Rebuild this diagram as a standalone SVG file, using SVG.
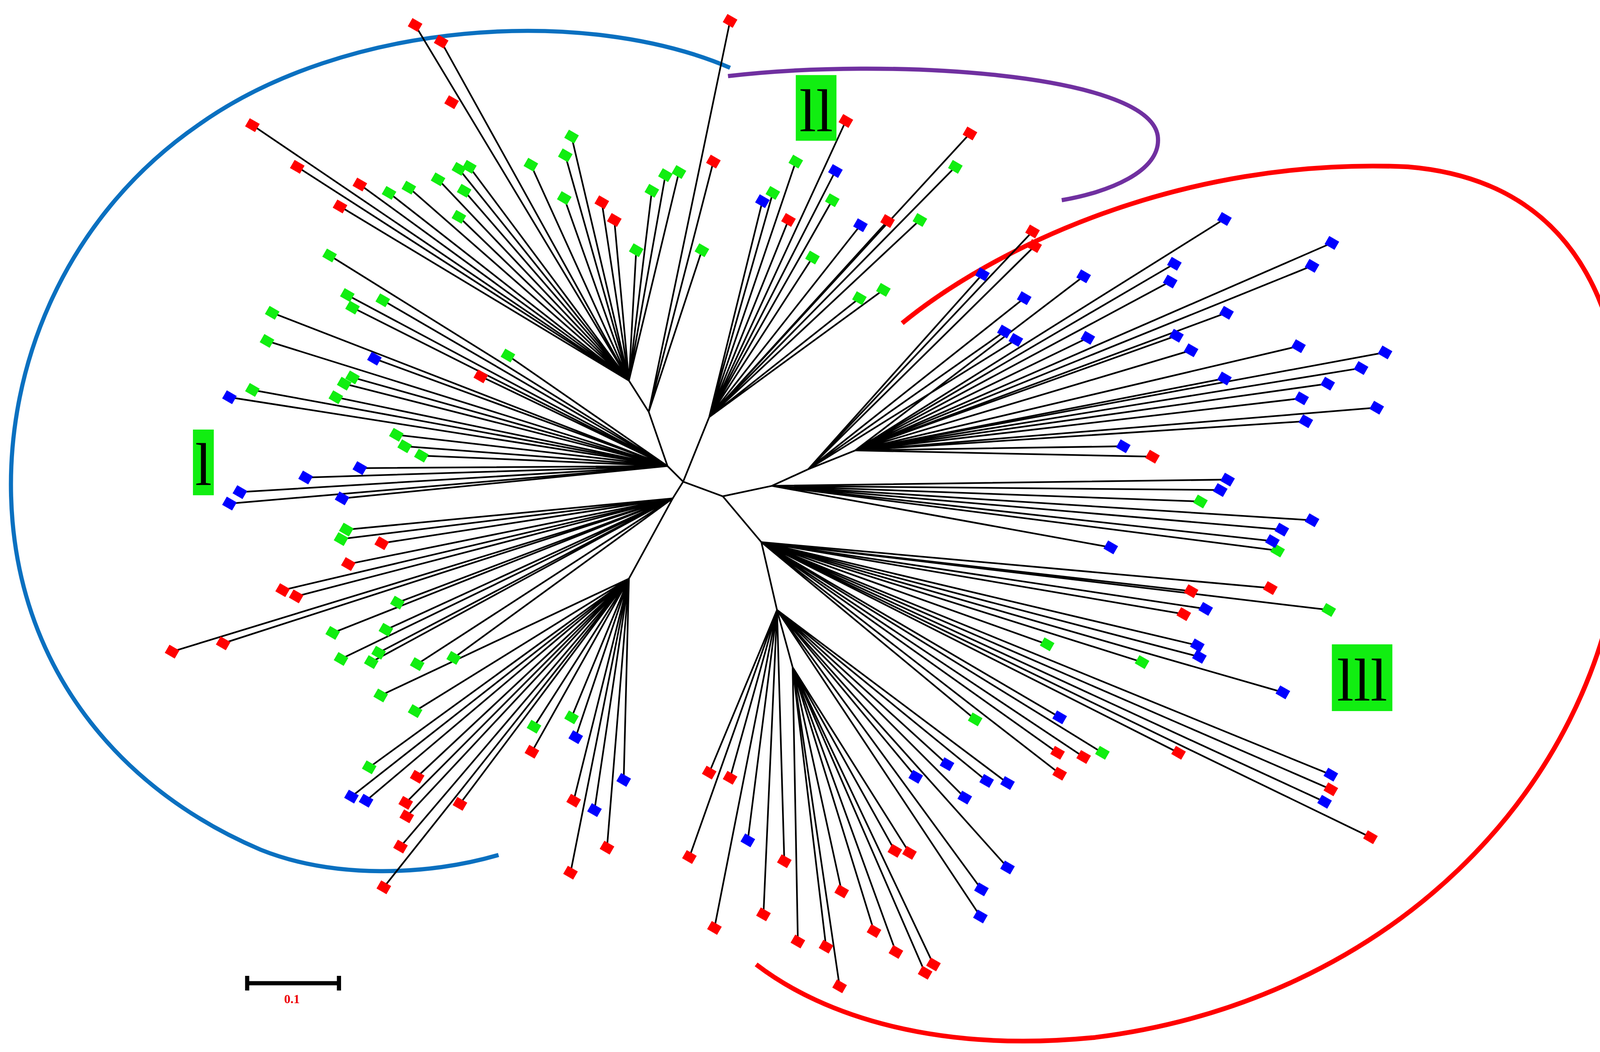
<svg xmlns="http://www.w3.org/2000/svg" xmlns:xlink="http://www.w3.org/1999/xlink" width="4187" height="2694" viewBox="0 0 4187 2694">
<style>
.br{fill:none;stroke:#000;stroke-width:1.6}
.r{fill:#ff0000}.g{fill:#11ee11}.b{fill:#0000ff}
.lab{font-family:"Liberation Serif",serif;fill:#000}
</style>
<defs><rect id="m" x="-5.5" y="-4.5" width="11" height="9" transform="rotate(30)"/></defs>
<rect width="4187" height="2694" fill="#fff"/>
<g transform="scale(2.67)">
<g id="arcs" fill="none" stroke-linecap="butt">
<path d="M700,65 C560,5 330,20 190,120 C60,210 0,360 12,500 C25,650 120,760 250,815 C320,843 410,840 478,820" stroke="#0a70c0" stroke-width="4"/>
<path d="M698,73 C850,55 1100,70 1110,130 C1115,165 1060,185 1018,192" stroke="#7030a0" stroke-width="4"/>
<path d="M865,310 C950,240 1130,150 1350,160 C1530,175 1575,330 1555,520 C1530,760 1330,960 1050,995 C900,1010 790,975 725,925" stroke="#ff0000" stroke-width="4.5"/>
</g>
<g id="connectors">
<path class="br" d="M655,462 L640,447 L622,395 L603,365 M655,462 L680,400 M655,462 L693,476 L740,466 L775,450 L820,432 M693,476 L730,520 L745,585 L760,640 M655,462 L645,478 L603,555"/>
<path class="br" d="M603,365 L398,24 M603,365 L423,40 M603,365 L242,120 M603,365 L285,160 M603,365 L345,177 M603,365 L326,198 M603,365 L373,185 M603,365 L392,180 M603,365 L420,172 M603,365 L440,162 M603,365 L450,160 M603,365 L445,183 M603,365 L440,208 M603,365 L509,158 M603,365 L548,131 M603,365 L542,149 M603,365 L541,190 M603,365 L577,194 M603,365 L589,211 M603,365 L625,183 M603,365 L638,168 M603,365 L651,165 M603,365 L610,240 M622,395 L673,240 M622,395 L684,155 M622,395 L700,20"/>
<path class="br" d="M680,400 L763,155 M680,400 L801,164 M680,400 L731,193 M680,400 L741,185 M680,400 L798,192 M680,400 L756,211 M680,400 L825,216 M680,400 L851,212 M680,400 L882,211 M680,400 L779,247 M680,400 L824,286 M680,400 L847,278 M680,400 L811,116 M680,400 L930,128 M680,400 L916,160"/>
<path class="br" d="M775,450 L990,222 M775,450 L992,236 M775,450 L942,263 M775,450 L982,286 M775,450 L963,318 M775,450 L974,326 M820,432 L1039,265 M820,432 L1043,324 M820,432 L1174,210 M820,432 L1126,253 M820,432 L1122,270 M820,432 L1176,300 M820,432 L1128,322 M820,432 L1142,336 M820,432 L1174,363 M820,432 L1277,233 M820,432 L1258,255 M820,432 L1245,332 M820,432 L1305,353 M820,432 L1328,338 M820,432 L1273,368 M820,432 L1248,382 M820,432 L1320,391 M820,432 L1252,404 M820,432 L1077,428 M820,432 L1105,438"/>
<path class="br" d="M740,466 L1177,460 M740,466 L1170,470 M740,466 L1151,481 M740,466 L1258,499 M740,466 L1229,508 M740,466 L1220,519 M740,466 L1225,528 M740,466 L1065,525 M730,520 L1218,564 M730,520 L1142,567 M730,520 L1135,589 M730,520 L1156,584 M730,520 L1274,585 M730,520 L1148,619 M730,520 L1150,630 M730,520 L1004,618 M730,520 L1095,635 M730,520 L1230,664 M730,520 L1016,688 M730,520 L935,690 M730,520 L1014,722 M730,520 L1039,726 M730,520 L1057,722 M730,520 L1016,742 M730,520 L1130,722 M730,520 L1276,743 M730,520 L1276,757 M730,520 L1270,769 M730,520 L1314,803"/>
<path class="br" d="M745,585 L908,733 M745,585 L946,749 M745,585 L966,751 M745,585 L878,745 M745,585 L925,765 M745,585 L966,832 M745,585 L941,853 M745,585 L940,879 M745,585 L680,741 M745,585 L700,746 M745,585 L661,822 M745,585 L685,890 M745,585 L717,806 M745,585 L752,826 M745,585 L732,877 M760,640 L765,903 M760,640 L792,908 M760,640 L807,855 M760,640 L805,946 M760,640 L838,893 M760,640 L858,816 M760,640 L872,818 M760,640 L859,913 M760,640 L887,933 M760,640 L895,925"/>
<path class="br" d="M603,555 L512,697 M603,555 L548,688 M603,555 L552,707 M603,555 L598,748 M603,555 L510,721 M603,555 L550,768 M603,555 L570,777 M603,555 L582,813 M603,555 L547,837 M603,555 L441,771 M603,555 L400,745 M603,555 L389,770 M603,555 L390,783 M603,555 L384,812 M603,555 L368,851 M603,555 L337,764 M603,555 L351,768 M603,555 L354,736 M603,555 L398,682 M603,555 L365,667"/>
<path class="br" d="M645,478 L381,578 M645,478 L370,604 M645,478 L319,607 M645,478 L363,626 M645,478 L356,635 M645,478 L327,632 M645,478 L400,637 M645,478 L435,631 M645,478 L271,566 M645,478 L284,572 M645,478 L214,617 M645,478 L165,625 M645,478 L334,541 M645,478 L366,521 M645,478 L332,508 M645,478 L327,517"/>
<path class="br" d="M640,447 L220,483 M640,447 L230,472 M640,447 L293,458 M640,447 L345,449 M640,447 L328,478 M640,447 L380,417 M640,447 L388,428 M640,447 L404,437 M640,447 L220,381 M640,447 L242,374 M640,447 L322,381 M640,447 L330,368 M640,447 L338,362 M640,447 L359,344 M640,447 L461,361 M640,447 L487,341 M640,447 L261,300 M640,447 L256,327 M640,447 L316,245 M640,447 L333,283 M640,447 L338,295 M640,447 L367,288"/>
</g>
<g id="leaves">
<g class="r"><use href="#m" x="398" y="24"/><use href="#m" x="423" y="40"/><use href="#m" x="700" y="20"/><use href="#m" x="242" y="120"/><use href="#m" x="285" y="160"/><use href="#m" x="345" y="177"/><use href="#m" x="326" y="198"/><use href="#m" x="433" y="98"/><use href="#m" x="577" y="194"/><use href="#m" x="589" y="211"/><use href="#m" x="684" y="155"/><use href="#m" x="811" y="116"/><use href="#m" x="930" y="128"/><use href="#m" x="756" y="211"/><use href="#m" x="851" y="212"/><use href="#m" x="990" y="222"/><use href="#m" x="992" y="236"/><use href="#m" x="1105" y="438"/><use href="#m" x="1218" y="564"/><use href="#m" x="1142" y="567"/><use href="#m" x="1135" y="589"/><use href="#m" x="1014" y="722"/><use href="#m" x="1039" y="726"/><use href="#m" x="1016" y="742"/><use href="#m" x="1130" y="722"/><use href="#m" x="1276" y="757"/><use href="#m" x="1314" y="803"/><use href="#m" x="680" y="741"/><use href="#m" x="700" y="746"/><use href="#m" x="661" y="822"/><use href="#m" x="685" y="890"/><use href="#m" x="752" y="826"/><use href="#m" x="732" y="877"/><use href="#m" x="765" y="903"/><use href="#m" x="792" y="908"/><use href="#m" x="807" y="855"/><use href="#m" x="805" y="946"/><use href="#m" x="838" y="893"/><use href="#m" x="858" y="816"/><use href="#m" x="872" y="818"/><use href="#m" x="859" y="913"/><use href="#m" x="887" y="933"/><use href="#m" x="895" y="925"/><use href="#m" x="510" y="721"/><use href="#m" x="550" y="768"/><use href="#m" x="582" y="813"/><use href="#m" x="547" y="837"/><use href="#m" x="441" y="771"/><use href="#m" x="400" y="745"/><use href="#m" x="389" y="770"/><use href="#m" x="390" y="783"/><use href="#m" x="384" y="812"/><use href="#m" x="368" y="851"/><use href="#m" x="271" y="566"/><use href="#m" x="284" y="572"/><use href="#m" x="214" y="617"/><use href="#m" x="165" y="625"/><use href="#m" x="334" y="541"/><use href="#m" x="366" y="521"/><use href="#m" x="461" y="361"/></g>
<g class="g"><use href="#m" x="373" y="185"/><use href="#m" x="392" y="180"/><use href="#m" x="420" y="172"/><use href="#m" x="440" y="162"/><use href="#m" x="450" y="160"/><use href="#m" x="445" y="183"/><use href="#m" x="440" y="208"/><use href="#m" x="509" y="158"/><use href="#m" x="548" y="131"/><use href="#m" x="542" y="149"/><use href="#m" x="541" y="190"/><use href="#m" x="625" y="183"/><use href="#m" x="638" y="168"/><use href="#m" x="651" y="165"/><use href="#m" x="610" y="240"/><use href="#m" x="673" y="240"/><use href="#m" x="763" y="155"/><use href="#m" x="741" y="185"/><use href="#m" x="798" y="192"/><use href="#m" x="882" y="211"/><use href="#m" x="779" y="247"/><use href="#m" x="824" y="286"/><use href="#m" x="847" y="278"/><use href="#m" x="916" y="160"/><use href="#m" x="1151" y="481"/><use href="#m" x="1225" y="528"/><use href="#m" x="1274" y="585"/><use href="#m" x="1004" y="618"/><use href="#m" x="1095" y="635"/><use href="#m" x="935" y="690"/><use href="#m" x="1057" y="722"/><use href="#m" x="512" y="697"/><use href="#m" x="548" y="688"/><use href="#m" x="354" y="736"/><use href="#m" x="398" y="682"/><use href="#m" x="365" y="667"/><use href="#m" x="381" y="578"/><use href="#m" x="370" y="604"/><use href="#m" x="319" y="607"/><use href="#m" x="363" y="626"/><use href="#m" x="356" y="635"/><use href="#m" x="327" y="632"/><use href="#m" x="400" y="637"/><use href="#m" x="435" y="631"/><use href="#m" x="332" y="508"/><use href="#m" x="327" y="517"/><use href="#m" x="380" y="417"/><use href="#m" x="388" y="428"/><use href="#m" x="404" y="437"/><use href="#m" x="242" y="374"/><use href="#m" x="322" y="381"/><use href="#m" x="330" y="368"/><use href="#m" x="338" y="362"/><use href="#m" x="487" y="341"/><use href="#m" x="261" y="300"/><use href="#m" x="256" y="327"/><use href="#m" x="316" y="245"/><use href="#m" x="333" y="283"/><use href="#m" x="338" y="295"/><use href="#m" x="367" y="288"/></g>
<g class="b"><use href="#m" x="801" y="164"/><use href="#m" x="731" y="193"/><use href="#m" x="825" y="216"/><use href="#m" x="942" y="263"/><use href="#m" x="982" y="286"/><use href="#m" x="1039" y="265"/><use href="#m" x="963" y="318"/><use href="#m" x="974" y="326"/><use href="#m" x="1043" y="324"/><use href="#m" x="1174" y="210"/><use href="#m" x="1126" y="253"/><use href="#m" x="1122" y="270"/><use href="#m" x="1176" y="300"/><use href="#m" x="1128" y="322"/><use href="#m" x="1142" y="336"/><use href="#m" x="1174" y="363"/><use href="#m" x="1277" y="233"/><use href="#m" x="1258" y="255"/><use href="#m" x="1245" y="332"/><use href="#m" x="1305" y="353"/><use href="#m" x="1328" y="338"/><use href="#m" x="1273" y="368"/><use href="#m" x="1248" y="382"/><use href="#m" x="1320" y="391"/><use href="#m" x="1252" y="404"/><use href="#m" x="1077" y="428"/><use href="#m" x="1177" y="460"/><use href="#m" x="1170" y="470"/><use href="#m" x="1258" y="499"/><use href="#m" x="1229" y="508"/><use href="#m" x="1220" y="519"/><use href="#m" x="1065" y="525"/><use href="#m" x="1156" y="584"/><use href="#m" x="1148" y="619"/><use href="#m" x="1150" y="630"/><use href="#m" x="1230" y="664"/><use href="#m" x="1016" y="688"/><use href="#m" x="1276" y="743"/><use href="#m" x="1270" y="769"/><use href="#m" x="908" y="733"/><use href="#m" x="946" y="749"/><use href="#m" x="966" y="751"/><use href="#m" x="878" y="745"/><use href="#m" x="925" y="765"/><use href="#m" x="966" y="832"/><use href="#m" x="941" y="853"/><use href="#m" x="940" y="879"/><use href="#m" x="717" y="806"/><use href="#m" x="552" y="707"/><use href="#m" x="598" y="748"/><use href="#m" x="570" y="777"/><use href="#m" x="337" y="764"/><use href="#m" x="351" y="768"/><use href="#m" x="220" y="483"/><use href="#m" x="230" y="472"/><use href="#m" x="293" y="458"/><use href="#m" x="345" y="449"/><use href="#m" x="328" y="478"/><use href="#m" x="220" y="381"/><use href="#m" x="359" y="344"/></g>
</g>
<g id="label-I"><rect x="185" y="412" width="20" height="63" fill="#11ee11"/><text class="lab" x="195" y="465" font-size="58" text-anchor="middle">l</text></g>
<g id="label-II"><rect x="763" y="72" width="39" height="63" fill="#11ee11"/><text class="lab" x="782.5" y="126" font-size="58" text-anchor="middle">ll</text></g>
<g id="label-III"><rect x="1277" y="618" width="58" height="64" fill="#11ee11"/><text class="lab" x="1306" y="672" font-size="58" text-anchor="middle">lll</text></g>
<g id="scale"><path d="M236,943 H326 M237,936 V950 M325,936 V950" stroke="#000" stroke-width="4" fill="none"/><text x="280" y="962" font-family="Liberation Serif,serif" font-weight="bold" font-size="12" fill="#e00" text-anchor="middle">0.1</text></g>
</g>
</svg>
